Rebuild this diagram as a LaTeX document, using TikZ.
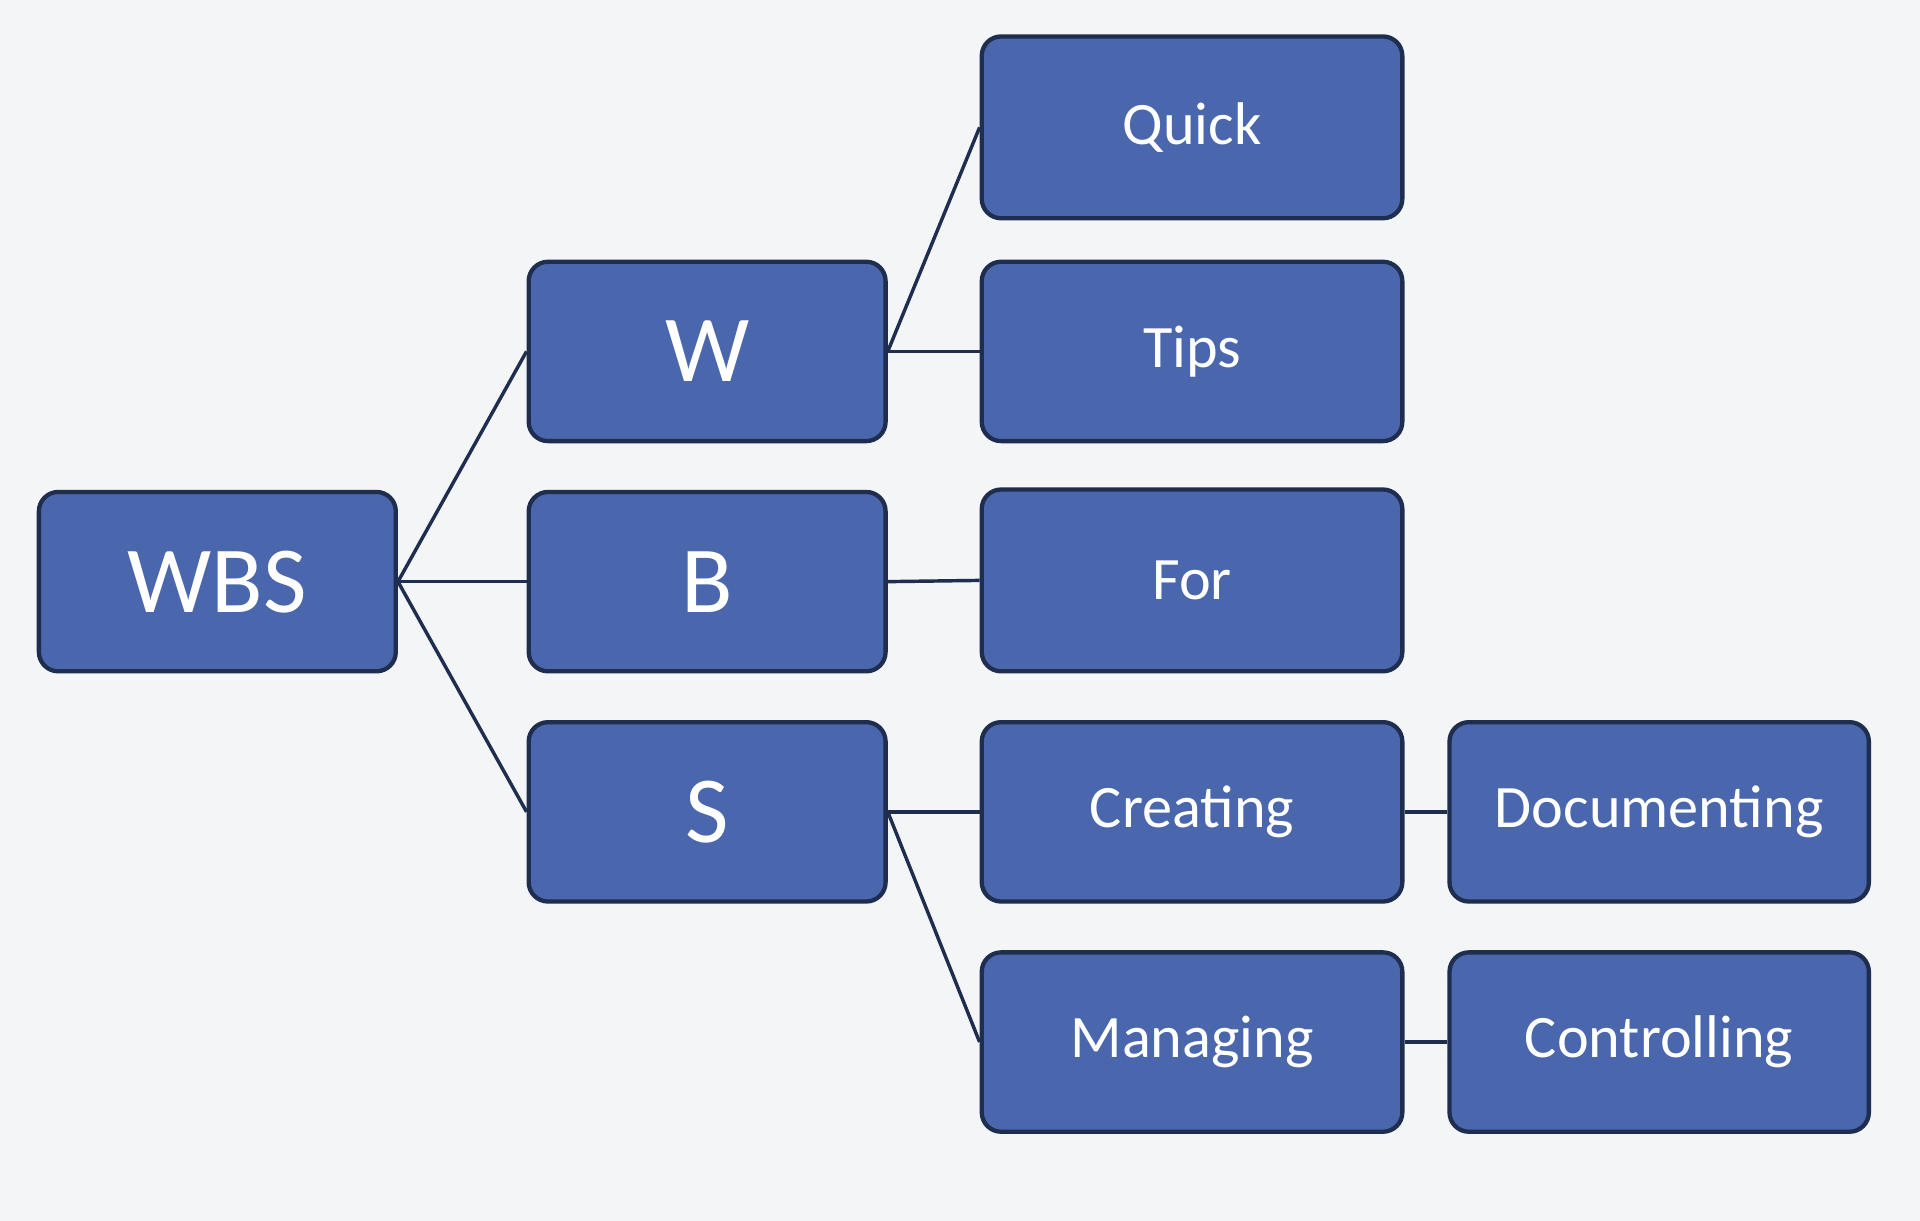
\documentclass[tikz,border=0pt]{standalone}
\usepackage{fontspec}
\setmainfont{Carlito}
\definecolor{boxfill}{HTML}{4A66AC}
\definecolor{boxline}{HTML}{1F2D4F}
\definecolor{bg}{HTML}{F4F5F7}
\begin{document}
\begin{tikzpicture}[x=0.02cm,y=-0.02cm,
  bx/.style={draw=boxline,line width=2pt,fill=boxfill,rounded corners=9pt,text=white,font=\fontsize{28}{32}\selectfont,inner sep=0pt},
  big/.style={font=\fontsize{44}{50}\selectfont},
  link/.style={draw=boxline,line width=1.6pt}]
\fill[bg] (0,0) rectangle (1568,997);
\useasboundingbox (0,0) rectangle (1568,997);
\newcommand{\bx}[6]{\node[bx,#6,minimum width=#3*0.02cm-2pt,minimum height=#4*0.02cm-2pt] (#1) at (#2) {#5};}
\bx{wbs}{177.5,475}{295}{150}{WBS}{big}
\bx{w}{577.5,287}{295}{150}{W}{big}
\bx{b}{577.5,475}{295}{150}{B}{big}
\bx{s}{577.5,663}{295}{150}{S}{big}
\bx{quick}{973.5,104}{347}{152}{Quick}{}
\bx{tips}{973.5,287}{347}{150}{Tips}{}
\bx{for}{973.5,474}{347}{152}{For}{}
\bx{creating}{973.5,663}{347}{150}{Creating}{}
\bx{managing}{973.5,851}{347}{150}{Managing}{}
\bx{doc}{1355,663}{346}{150}{Documenting}{}
\bx{ctrl}{1355,851}{346}{150}{Controlling}{}
\draw[link] (wbs.east) -- (w.west);
\draw[link] (wbs.east) -- (b.west);
\draw[link] (wbs.east) -- (s.west);
\draw[link] (w.east) -- (quick.west);
\draw[link] (w.east) -- (tips.west);
\draw[link] (b.east) -- (for.west);
\draw[link] (s.east) -- (creating.west);
\draw[link] (s.east) -- (managing.west);
\draw[link] (creating.east) -- (doc.west);
\draw[link] (managing.east) -- (ctrl.west);
\end{tikzpicture}
\end{document}
